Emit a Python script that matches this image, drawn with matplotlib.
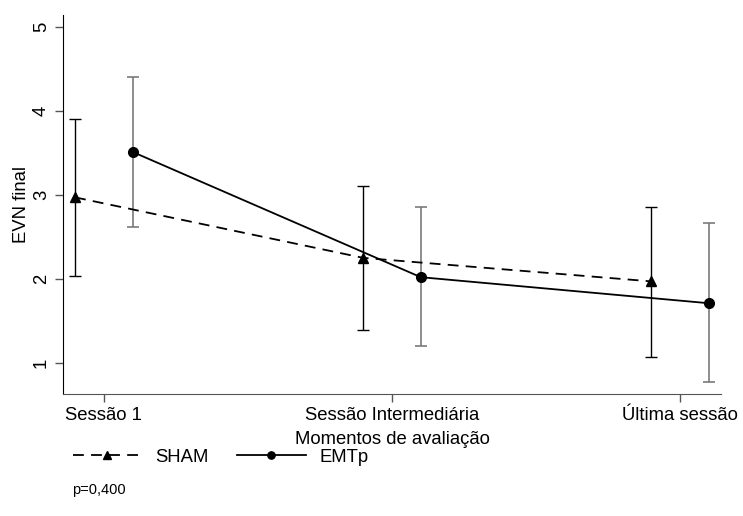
import numpy as np
import matplotlib.pyplot as plt

# data
moments = ["Sessão 1", "Sessão Intermediária", "Última sessão"]
sham_mean = [2.97, 2.25, 1.97]
sham_low = [2.04, 1.39, 1.07]
sham_high = [3.90, 3.11, 2.85]
emtp_mean = [3.51, 2.02, 1.71]
emtp_low = [2.62, 1.20, 0.77]
emtp_high = [4.40, 2.85, 2.66]

plt.rcParams["font.family"] = ["Liberation Sans", "DejaVu Sans"]
font_size = 13.3

fig = plt.figure(figsize=(7.43, 5.16), dpi=100)
ax = fig.add_axes([63 / 743, 122 / 516, 658 / 743, 379 / 516])

x = np.arange(len(moments))
off = 0.1

sham_err = [np.array(sham_mean) - np.array(sham_low), np.array(sham_high) - np.array(sham_mean)]
emtp_err = [np.array(emtp_mean) - np.array(emtp_low), np.array(emtp_high) - np.array(emtp_mean)]

ax.errorbar(x - off, sham_mean, yerr=sham_err, fmt="none", ecolor="black",
            elinewidth=1.0, capsize=4.5, capthick=1.0)
ax.errorbar(x + off, emtp_mean, yerr=emtp_err, fmt="none", ecolor="#7a7a7a",
            elinewidth=1.2, capsize=4.5, capthick=1.2)

ax.plot(x - off, sham_mean, color="black", linestyle=(0, (6, 4)), linewidth=1.3,
        marker="^", markersize=7, label="SHAM")
ax.plot(x + off, emtp_mean, color="black", linestyle="-", linewidth=1.3,
        marker="o", markersize=7, label="EMTp")

ax.set_xlim(-0.142, 2.142)
ax.set_ylim(0.63, 5.14)
ax.set_xticks(x)
ax.set_xticklabels(moments, fontsize=font_size)
ax.set_yticks([1, 2, 3, 4, 5])
ax.set_yticklabels(["1", "2", "3", "4", "5"], fontsize=font_size, rotation=90, va="center")
ax.tick_params(axis="both", direction="out", length=6, width=1, color="#555555")
ax.set_xlabel("Momentos de avaliação", fontsize=font_size, labelpad=5)
ax.set_ylabel("EVN final", fontsize=font_size, labelpad=2)

ax.spines["top"].set_visible(False)
ax.spines["right"].set_visible(False)
ax.spines["left"].set_color("black")
ax.spines["bottom"].set_color("#555555")

fig.legend(loc="center left", bbox_to_anchor=(56 / 743, 1 - 457 / 516), ncol=2,
           frameon=False, fontsize=font_size, handlelength=3.75, handletextpad=0.7,
           columnspacing=1.55, numpoints=1, markerscale=0.75)

fig.text(72 / 743, 1 - 490 / 516, "p=0,400", fontsize=10.5, va="center")

plt.savefig("out.png", dpi=100)
